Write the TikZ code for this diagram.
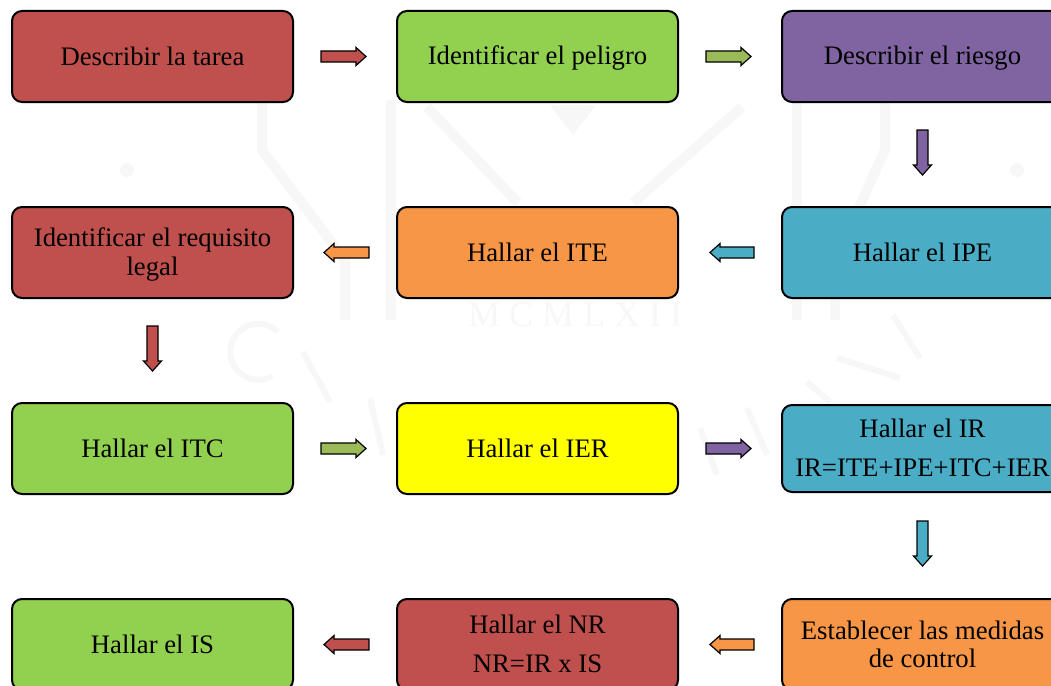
\documentclass[tikz,border=0pt]{standalone}
\usepackage{fontspec}
\setmainfont{Liberation Serif}
\usetikzlibrary{calc}
\definecolor{cRed}{HTML}{C0504D}
\definecolor{cGreen}{HTML}{92D050}
\definecolor{cOlive}{HTML}{9BBB59}
\definecolor{cPurple}{HTML}{8064A2}
\definecolor{cOrange}{HTML}{F79646}
\definecolor{cTeal}{HTML}{4BACC6}
\definecolor{cYellow}{HTML}{FFFF00}
\definecolor{cWater}{HTML}{F7F7F7}
\newcommand{\ls}{\rule[-5.4pt]{0pt}{28pt}}
\tikzset{
  box/.style={draw=black,line width=2pt,rounded corners=10pt,minimum width=281pt,minimum height=91pt,
    inner sep=0pt,align=center,font=\fontsize{26.7}{28}\selectfont,text=black},
  blockarrow/.style={draw=black,line width=1.2pt,line join=miter,fill=#1},
  waterline/.style={draw=cWater,line width=10pt},
  waterstroke/.style={draw=cWater,line width=6pt}
}
% \conn{from}{to}{start gap}{end gap}{colour}
\newcommand{\conn}[5]{%
  \coordinate (S) at ($(#1)!#3pt!(#2)$);
  \coordinate (E) at ($(#2)!#4pt!(#1)$);
  \coordinate (H) at ($(E)!10pt!(S)$);
  \draw[blockarrow=#5] ($(S)!5.5pt!90:(E)$) -- ($(H)!5.5pt!90:(E)$) -- ($(H)!9pt!90:(E)$) -- (E)
    -- ($(H)!9pt!-90:(E)$) -- ($(H)!5.5pt!-90:(E)$) -- ($(S)!5.5pt!-90:(E)$) -- cycle;
}
\begin{document}
\begin{tikzpicture}[x=1pt,y=-1pt]
\useasboundingbox (0,0) rectangle (1051,685);
\clip (0,0) rectangle (1051,685);
% faint watermark
\draw[waterline] (262,100) -- (262,150) -- (345,260) -- (345,320);
\draw[waterline] (391,100) -- (391,320);
\draw[waterline] (427,107) -- (518,203);
\draw[waterline] (742,107) -- (633,203);
\draw[waterline] (797,100) -- (797,320);
\draw[waterline] (885,100) -- (885,150) -- (835,260) -- (835,320);
\fill[cWater] (550,105) -- (596,105) -- (573,135) -- cycle;
\fill[cWater] (127,170) circle (7pt) (1017,170) circle (7pt);
\node[text=cWater,font=\fontsize{36}{36}\selectfont\addfontfeature{LetterSpace=25}] (wm) at (575,315) {MCMLXII};
% faint ring lettering, shown as strokes (its wording cannot be read)
\draw[waterstroke] (278,332) arc (-45:-300:28);
\draw[waterstroke] (303,352) -- (330,402);
\draw[waterstroke] (370,398) -- (383,455);
\draw[waterstroke] (893,315) -- (920,358);
\draw[waterstroke] (837,358) -- (900,378);
\draw[waterstroke] (807,382) -- (830,402);
\draw[waterstroke] (700,428) -- (717,475);
\draw[waterstroke] (747,408) -- (767,455);
% boxes
\node[box,fill=cRed]    (a1) at (152.5,56.5)  {\ls Describir la tarea};
\node[box,fill=cGreen]  (a2) at (537.5,56.5)  {\ls Identificar el peligro};
\node[box,fill=cPurple] (a3) at (922.5,56.5)  {\ls Describir el riesgo};
\node[box,fill=cRed]    (b1) at (152.5,252.5) {\ls Identificar el requisito\\\ls legal};
\node[box,fill=cOrange] (b2) at (537.5,252.5) {\ls Hallar el ITE};
\node[box,fill=cTeal]   (b3) at (922.5,252.5) {\ls Hallar el IPE};
\node[box,fill=cGreen]  (c1) at (152.5,448.5) {\ls Hallar el ITC};
\node[box,fill=cYellow] (c2) at (537.5,448.5) {\ls Hallar el IER};
\node[box,fill=cTeal,minimum height=87pt] (c3) at (922.5,448.5) {\ls Hallar el IR\\[11pt]\ls IR=ITE+IPE+ITC+IER};
\node[box,fill=cGreen]  (d1) at (152.5,644.5) {\ls Hallar el IS};
\node[box,fill=cRed]    (d2) at (537.5,644.5) {\ls Hallar el NR\\[11pt]\ls NR=IR x IS};
\node[box,fill=cOrange] (d3) at (922.5,644.5) {\ls Establecer las medidas\\\ls de control};
\conn{a1.east}{a2.west}{27}{30}{cRed}
\conn{a2.east}{a3.west}{27}{30}{cOlive}
\conn{a3.south}{b3.north}{27}{31}{cPurple}
\conn{b3.west}{b2.east}{27}{31}{cTeal}
\conn{b2.west}{b1.east}{27}{30}{cOrange}
\conn{b1.south}{c1.north}{27}{31}{cRed}
\conn{c1.east}{c2.west}{27}{30}{cOlive}
\conn{c2.east}{c3.west}{27}{30}{cPurple}
\conn{c3.south}{d3.north}{28}{32}{cTeal}
\conn{d3.west}{d2.east}{27}{31}{cOrange}
\conn{d2.west}{d1.east}{27}{30}{cRed}
\end{tikzpicture}
\end{document}
